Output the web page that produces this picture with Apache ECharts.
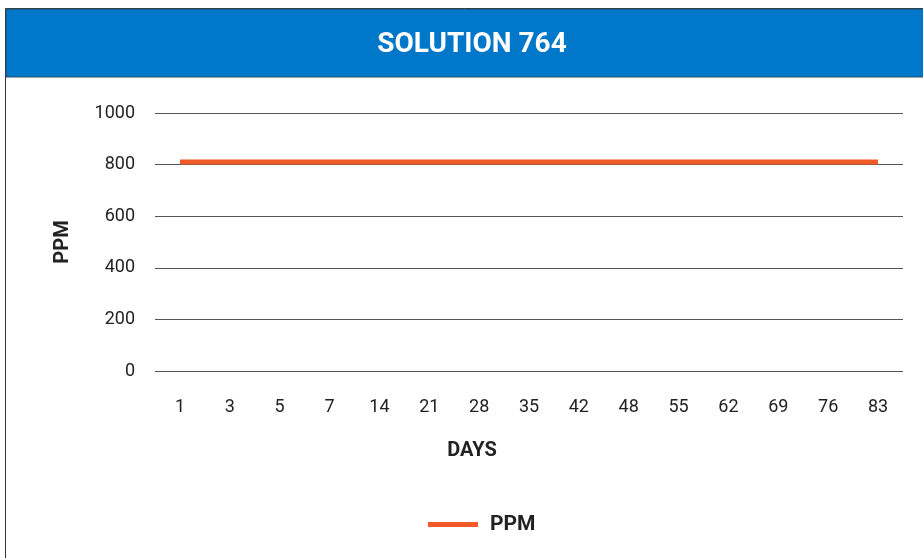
<!DOCTYPE html>
<html>
<head>
<meta charset="utf-8">
<script src="https://cdn.jsdelivr.net/npm/echarts@6/dist/echarts.min.js"></script>
<style>
  html, body { margin: 0; padding: 0; background: #fff; }
  #main { width: 923px; height: 558px; }
</style>
</head>
<body>
<div id="main"></div>
<script>
// days on the x axis
var days = ["1", "3", "5", "7", "14", "21", "28", "35", "42", "48", "55", "62", "69", "76", "83"];
// ppm reading per day
var ppm = [810, 810, 810, 810, 810, 810, 810, 810, 810, 810, 810, 810, 810, 810, 810];

var yTicks = { min: 0, max: 1000, interval: 200 };

var font = 'Roboto, "Liberation Sans", sans-serif';

var chart = echarts.init(document.getElementById("main"));

var option = {
    animation: false,
    textStyle: { fontFamily: font },
    graphic: [
        // outer frame
        {
            type: "rect",
            shape: { x: 5.5, y: 8.5, width: 940, height: 560 },
            style: { fill: "#fff", stroke: "#333", lineWidth: 1 },
            z: -10
        },
        // blue header band
        {
            type: "rect",
            shape: { x: 6, y: 9, width: 930, height: 68 },
            style: { fill: "#0077c8", stroke: "#2a4a66", lineWidth: 1 },
            z: -5
        },
        {
            type: "text",
            x: 472,
            y: 45,
            style: {
                text: "SOLUTION 764",
                fill: "#fff",
                font: 'bold 28px ' + font,
                textAlign: "center",
                textVerticalAlign: "middle"
            }
        },
        // x axis title, sits left of the grid centre like the original
        {
            type: "text",
            x: 472,
            y: 451,
            style: {
                text: "DAYS",
                fill: "#222",
                font: 'bold 20px ' + font,
                textAlign: "center",
                textVerticalAlign: "middle"
            }
        }
    ],
    legend: {
        data: ["PPM"],
        left: 423,
        top: 509,
        icon: "rect",
        itemWidth: 50,
        itemHeight: 5,
        itemGap: 10,
        textStyle: {
            fontFamily: font, fontWeight: "bold", fontSize: 21, color: "#222",
            padding: [0, 0, 0, 7]
        }
    },
    grid: { left: 155, right: 20, top: 113, bottom: 187 },
    xAxis: {
        type: "category",
        data: days,
        boundaryGap: true,
        axisLine: { show: false },
        axisTick: { show: false },
        axisLabel: { margin: 27, fontSize: 18, color: "#222", fontFamily: font }
    },
    yAxis: {
        type: "value",
        min: yTicks.min,
        max: yTicks.max,
        interval: yTicks.interval,
        name: "PPM",
        nameLocation: "middle",
        nameGap: 82,
        nameTextStyle: { fontFamily: font, fontWeight: "bold", fontSize: 20, color: "#222" },
        axisLine: { show: false },
        axisTick: { show: false },
        axisLabel: {
            margin: 20, fontSize: 18, color: "#222", fontFamily: font,
            formatter: function (v) { return String(v); }
        },
        splitLine: { lineStyle: { color: "#555", width: 1 } }
    },
    series: [{
        name: "PPM",
        type: "line",
        data: ppm,
        symbol: "none",
        itemStyle: { color: "#f05a28" },
        lineStyle: { color: "#f05a28", width: 5 }
    }]
};

chart.setOption(option);
</script>
</body>
</html>
